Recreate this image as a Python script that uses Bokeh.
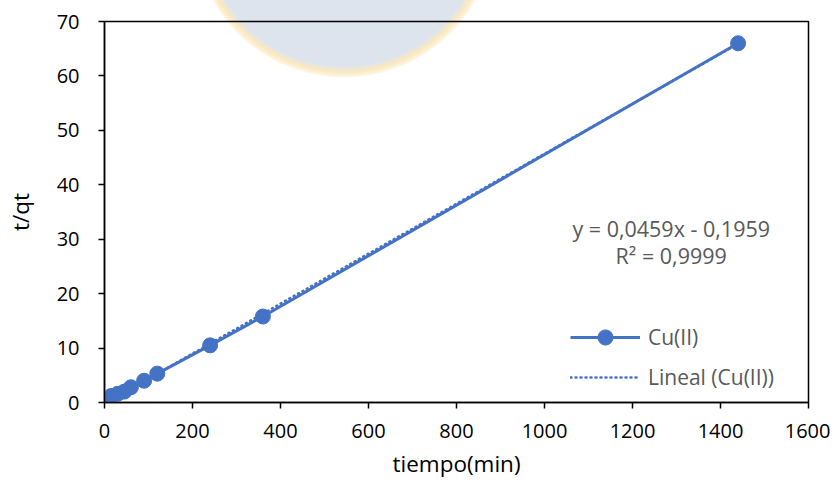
import numpy as np
from bokeh.plotting import figure
from bokeh.models import Range1d, FixedTicker, Legend, LegendItem, Label
from bokeh.embed import file_html
from bokeh.resources import INLINE

# ---- data ----
tiempo = [5, 15, 30, 45, 60, 90, 120, 240, 360, 1440]
t_qt = [0.5, 1.2, 1.6, 2.0, 2.8, 4.0, 5.3, 10.5, 15.8, 66.0]
slope = 0.0459
intercept = -0.1959
r2_text = "R² = 0,9999"
eq_text = "y = 0,0459x - 0,1959"
x_ticks = [0, 200, 400, 600, 800, 1000, 1200, 1400, 1600]
y_ticks = [0, 10, 20, 30, 40, 50, 60, 70]
x_title = "tiempo(min)"
y_title = "t/qt"
series_name = "Cu(II)"
trend_name = "Lineal (Cu(II))"

BLUE = "#4472C4"
FONT = "Open Sans"

p = figure(width=830, height=484, output_backend="svg", toolbar_location=None,
           x_range=Range1d(0, 1600), y_range=Range1d(0, 70),
           min_border_left=104, min_border_right=22, min_border_top=21, min_border_bottom=82)

# faint watermark behind the chart (decoration only)
p.background_fill_color = None
p.border_fill_color = None
p.styles = {"background": "radial-gradient(circle 150px at 344px -73px, #dde4ee 0px, #dde4ee 139px, "
                          "#fbe9bf 145px, #fdf3dc 149px, rgba(255,255,255,0) 151px), white"}

p.outline_line_color = "black"
p.outline_line_width = 1.5
p.xgrid.visible = False
p.ygrid.visible = False

for ax in (p.xaxis[0], p.yaxis[0]):
    ax.axis_line_color = "black"
    ax.axis_line_width = 1.5
    ax.major_tick_line_color = "black"
    ax.major_tick_line_width = 1.5
    ax.major_tick_in = 0
    ax.major_tick_out = 6
    ax.minor_tick_line_color = None
    ax.major_label_text_font = FONT
    ax.major_label_text_font_size = "20px"
    ax.major_label_text_color = "black"
    ax.axis_label_text_font = FONT
    ax.axis_label_text_font_size = "22.5px"
    ax.axis_label_text_font_style = "normal"
    ax.axis_label_text_color = "black"

p.xaxis.ticker = FixedTicker(ticks=x_ticks)
p.yaxis.ticker = FixedTicker(ticks=y_ticks)
p.xaxis.axis_label = x_title
p.yaxis.axis_label = y_title
p.xaxis.major_label_standoff = 15
p.yaxis.major_label_standoff = 19
p.xaxis.axis_label_standoff = 7
p.yaxis.axis_label_standoff = 18

# trendline
tx = np.array([min(tiempo), max(tiempo)], dtype=float)
ty = slope * tx + intercept
tr = p.line(tx, ty, line_color=BLUE, line_width=2.5, line_dash="1 4", line_cap="round")

# series
ln = p.line(tiempo, t_qt, line_color=BLUE, line_width=3)
sc = p.scatter(tiempo, t_qt, size=15, fill_color=BLUE, line_color=BLUE)

legend = Legend(items=[LegendItem(label=series_name, renderers=[ln, sc]),
                       LegendItem(label=trend_name, renderers=[tr])],
                location=(466, 6), orientation="vertical",
                glyph_width=70, glyph_height=38, spacing=2, padding=0, margin=0,
                label_standoff=8, label_text_font=FONT, label_text_font_size="21px",
                label_text_color="#595959", border_line_alpha=0, background_fill_alpha=0)
p.add_layout(legend, "center")

p.add_layout(Label(x=1288, y=32.0, text=eq_text, text_align="center", text_baseline="middle",
                   text_font=FONT, text_font_size="21.5px", text_color="#595959"))
p.add_layout(Label(x=1288, y=27.0, text=r2_text, text_align="center", text_baseline="middle",
                   text_font=FONT, text_font_size="21.5px", text_color="#595959"))

open("out.html", "w").write(file_html(p, INLINE))
